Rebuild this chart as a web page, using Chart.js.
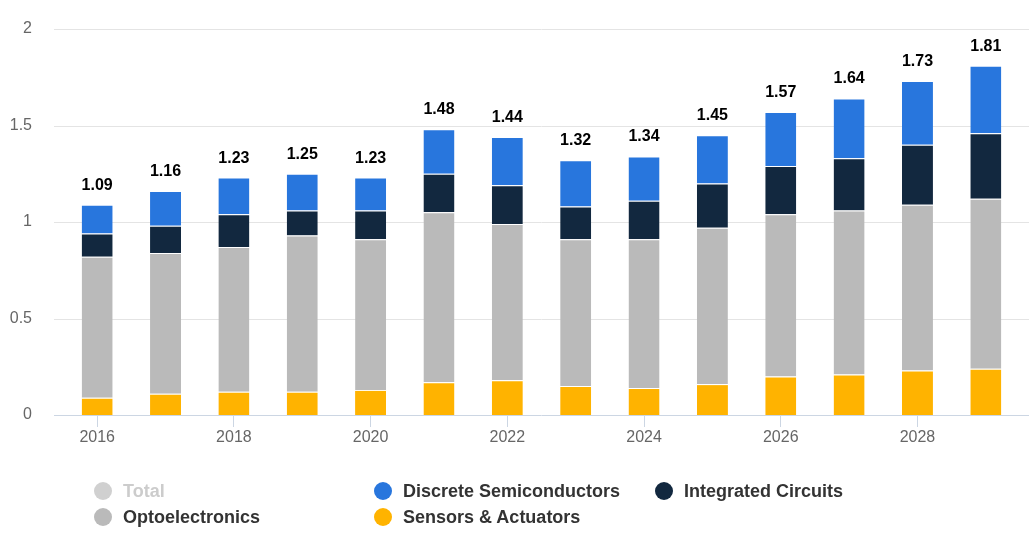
<!DOCTYPE html>
<html>
<head>
<meta charset="utf-8">
<script src="https://cdn.jsdelivr.net/npm/chart.js@4/dist/chart.umd.min.js"></script>
<style>
  html, body { margin: 0; padding: 0; background: #fff; }
  #wrap { position: relative; width: 1034px; height: 550px; }
  canvas { position: absolute; left: 0; top: 0; }
  .lg { position: absolute; display: flex; align-items: center; font-family: 'Liberation Sans', Arial, sans-serif; font-weight: bold; font-size: 18px; color: #333; white-space: nowrap; }
  .lg .dot { width: 18px; height: 18px; border-radius: 50%; margin-right: 11px; flex: none; }
</style>
</head>
<body>
<div id="wrap">
  <canvas id="c" width="1034" height="550"></canvas>
</div>
<script>
const YEARS = ['2016','2017','2018','2019','2020','2021','2022','2023','2024','2025','2026','2027','2028','2029'];
const TOTAL = [1.09, 1.16, 1.23, 1.25, 1.23, 1.48, 1.44, 1.32, 1.34, 1.45, 1.57, 1.64, 1.73, 1.81];
const SENSORS = [0.09, 0.11, 0.12, 0.12, 0.13, 0.17, 0.18, 0.15, 0.14, 0.16, 0.20, 0.21, 0.23, 0.24];
const OPTO = [0.73, 0.73, 0.75, 0.81, 0.78, 0.88, 0.81, 0.76, 0.77, 0.81, 0.84, 0.85, 0.86, 0.88];
const IC = [0.12, 0.14, 0.17, 0.13, 0.15, 0.20, 0.20, 0.17, 0.20, 0.23, 0.25, 0.27, 0.31, 0.34];
const DISCRETE = [0.15, 0.18, 0.19, 0.19, 0.17, 0.23, 0.25, 0.24, 0.23, 0.25, 0.28, 0.31, 0.33, 0.35];
const Y_TICK_STEP = 0.5;

const FONT = "'Liberation Sans', Arial, sans-serif";
const GRID_EXTEND_L = 9, GRID_EXTEND_R = 9;

const extendedGrid = {
  id: 'extendedGrid',
  beforeDatasetsDraw(chart) {
    const { ctx, chartArea, scales } = chart;
    const y = scales.y;
    ctx.save();
    ctx.lineWidth = 1;
    y.ticks.forEach(t => {
      const py = Math.round(y.getPixelForValue(t.value)) + 0.5;
      ctx.strokeStyle = t.value === 0 ? '#ccd6e3' : '#e4e4e4';
      ctx.beginPath();
      ctx.moveTo(chartArea.left - GRID_EXTEND_L, py);
      ctx.lineTo(chartArea.right + GRID_EXTEND_R, py);
      ctx.stroke();
    });
    ctx.restore();
  }
};

const totalLabels = {
  id: 'totalLabels',
  afterDatasetsDraw(chart) {
    const { ctx, scales } = chart;
    const meta = chart.getDatasetMeta(0);
    ctx.save();
    ctx.font = 'bold 16px ' + FONT;
    ctx.fillStyle = '#000';
    ctx.textAlign = 'center';
    ctx.textBaseline = 'alphabetic';
    TOTAL.forEach((v, i) => {
      const x = meta.data[i].x;
      const y = scales.y.getPixelForValue(v) - 15;
      ctx.fillText(v.toFixed(2), x, y);
    });
    ctx.restore();
  }
};

const barCommon = { borderColor: '#ffffff', borderWidth: { top: 1, left: 0, right: 0, bottom: 0 }, borderSkipped: false, stack: 's' };

const chart = new Chart(document.getElementById('c'), {
  type: 'bar',
  data: {
    labels: YEARS,
    datasets: [
      Object.assign({ label: 'Sensors & Actuators', data: SENSORS, backgroundColor: '#FFB300' }, barCommon),
      Object.assign({ label: 'Optoelectronics', data: OPTO, backgroundColor: '#BABABA' }, barCommon),
      Object.assign({ label: 'Integrated Circuits', data: IC, backgroundColor: '#12283F' }, barCommon),
      Object.assign({ label: 'Discrete Semiconductors', data: DISCRETE, backgroundColor: '#2876DD' }, barCommon),
      { label: 'Total', data: TOTAL, backgroundColor: '#CCCCCC', hidden: true, stack: 'total' }
    ]
  },
  options: {
    responsive: false,
    animation: false,
    layout: { padding: { top: 29, right: 14, left: 0, bottom: 0 } },
    datasets: { bar: { categoryPercentage: 1, barPercentage: 0.4535 } },
    plugins: { legend: { display: false }, tooltip: { enabled: false } },
    scales: {
      x: {
        stacked: true,
        offset: true,
        border: { display: false },
        grid: {
          offset: false,
          drawOnChartArea: false,
          drawTicks: true,
          tickLength: 12,
          color: c => (c.index % 2 === 0 ? '#ccd6e3' : 'rgba(0,0,0,0)')
        },
        ticks: {
          autoSkip: false,
          maxRotation: 0,
          padding: 1,
          color: '#666',
          font: { family: FONT, size: 16 },
          callback: (v, i) => (i % 2 === 0 ? YEARS[i] : '')
        },
        afterFit: s => { s.height = 135; s.paddingLeft = 0; s.paddingRight = 0; }
      },
      y: {
        stacked: true,
        min: 0,
        max: 2,
        border: { display: false },
        grid: { display: false, drawTicks: false },
        ticks: {
          stepSize: Y_TICK_STEP,
          padding: 31,
          color: '#666',
          font: { family: FONT, size: 16 },
          callback: v => String(Number(v))
        },
        afterFit: s => { s.width = 63; s.paddingTop = 0; s.paddingBottom = 0; }
      }
    }
  },
  plugins: [extendedGrid, totalLabels]
});

// HTML legend built from the datasets
const LEGEND_LAYOUT = [
  { label: 'Total', cx: 103, cy: 491 },
  { label: 'Discrete Semiconductors', cx: 383, cy: 491 },
  { label: 'Integrated Circuits', cx: 664, cy: 491 },
  { label: 'Optoelectronics', cx: 103, cy: 517 },
  { label: 'Sensors & Actuators', cx: 383, cy: 517 }
];
const wrap = document.getElementById('wrap');
LEGEND_LAYOUT.forEach(item => {
  const ds = chart.data.datasets.find(d => d.label === item.label);
  const el = document.createElement('div');
  el.className = 'lg';
  el.style.left = (item.cx - 9) + 'px';
  el.style.top = (item.cy - 11) + 'px';
  el.style.height = '22px';
  const dot = document.createElement('span');
  dot.className = 'dot';
  dot.style.background = ds.hidden ? '#d0d0d0' : ds.backgroundColor;
  const txt = document.createElement('span');
  txt.textContent = ds.label;
  if (ds.hidden) txt.style.color = '#cccccc';
  el.appendChild(dot);
  el.appendChild(txt);
  wrap.appendChild(el);
});
</script>
</body>
</html>
